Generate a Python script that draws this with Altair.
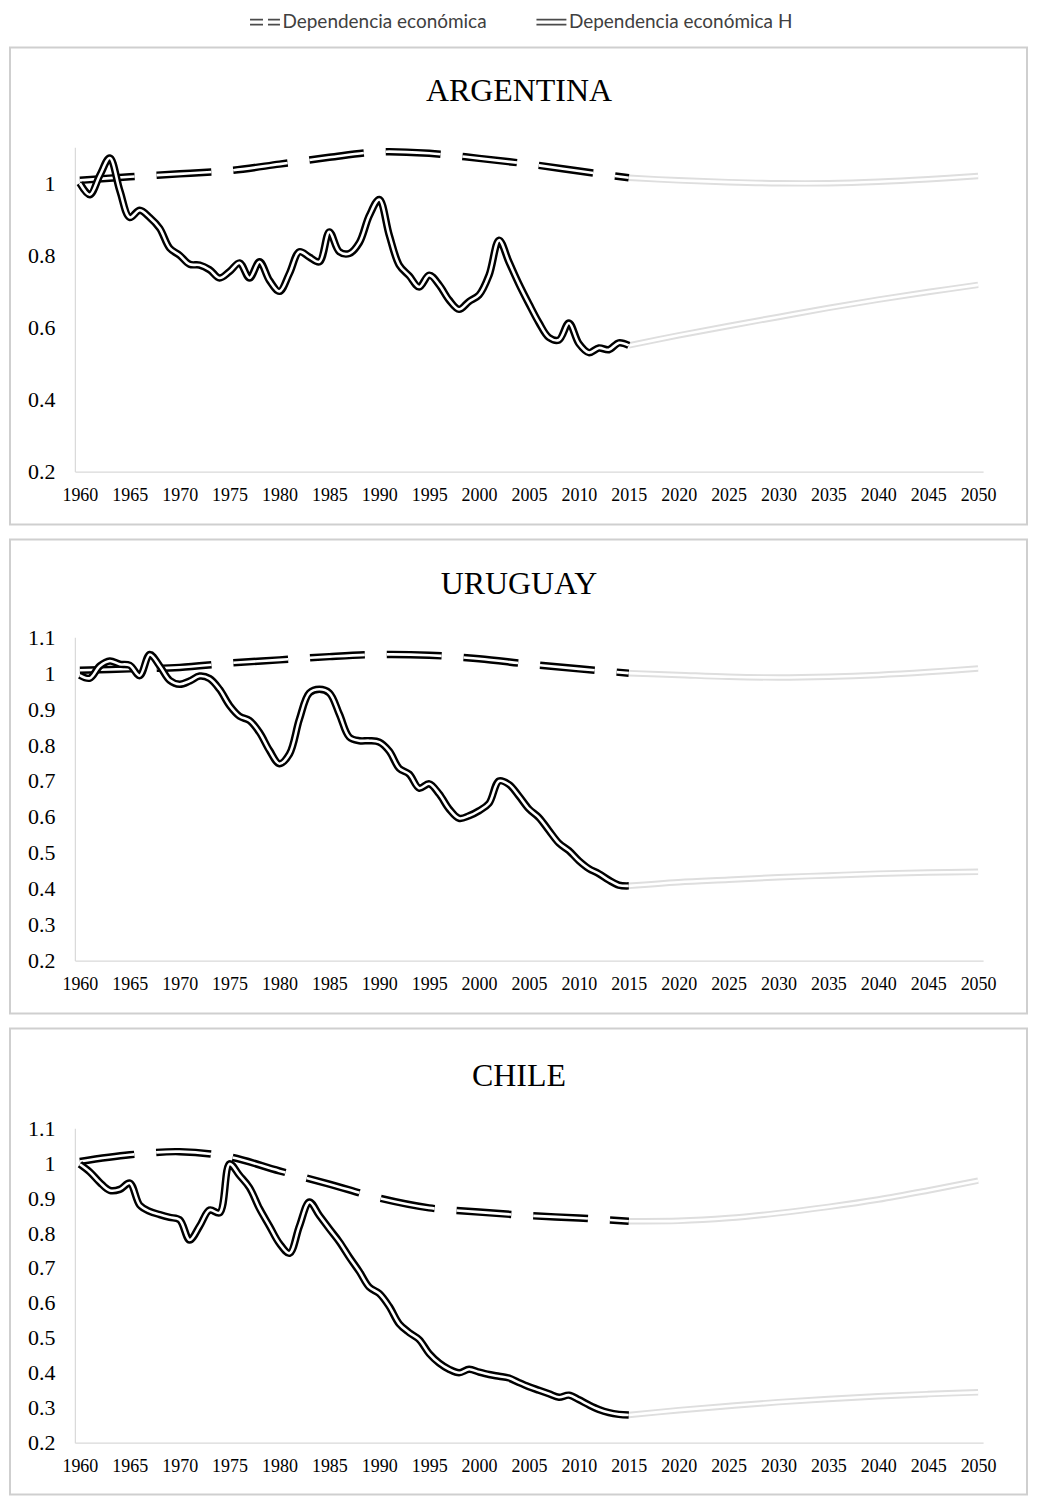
import altair as alt
import pandas as pd

paises = ["ARGENTINA", "URUGUAY", "CHILE"]
series = ["Dependencia económica", "Dependencia económica H"]

anios_hist = list(range(1960, 2016))
anios_dep = [1960, 1965, 1970, 1975, 1980, 1985, 1990, 1995, 2000, 2005, 2010, 2015]
anios_proy = [2015, 2020, 2025, 2030, 2035, 2040, 2045, 2050]
anios_eje = list(range(1960, 2051, 5))

# --- ARGENTINA ---
arg_h = [1.00, 0.968, 1.022, 1.07, 0.98, 0.905, 0.925, 0.905, 0.875, 0.82,
         0.80, 0.775, 0.773, 0.76, 0.737, 0.755, 0.779, 0.737, 0.782, 0.73,
         0.70, 0.75, 0.81, 0.795, 0.782, 0.865, 0.81, 0.805, 0.835, 0.91,
         0.955, 0.856, 0.773, 0.743, 0.712, 0.745, 0.718, 0.676, 0.65, 0.672,
         0.69, 0.745, 0.842, 0.781, 0.72, 0.665, 0.613, 0.572, 0.565, 0.612,
         0.555, 0.53, 0.543, 0.538, 0.557, 0.55]
arg_dep = [1.008, 1.018, 1.026, 1.035, 1.053, 1.072, 1.087, 1.083, 1.069, 1.053, 1.034, 1.015]
arg_dep_proy = [1.015, 1.008, 1.003, 1.0, 1.0, 1.004, 1.011, 1.02]
arg_h_proy = [0.55, 0.578, 0.604, 0.629, 0.654, 0.677, 0.698, 0.718]

# --- URUGUAY ---
uru_h = [0.994, 0.986, 1.02, 1.034, 1.025, 1.022, 0.993, 1.052, 1.02, 0.98,
         0.969, 0.978, 0.992, 0.985, 0.955, 0.91, 0.88, 0.868, 0.835, 0.785,
         0.748, 0.775, 0.872, 0.945, 0.955, 0.945, 0.886, 0.822, 0.812, 0.812,
         0.808, 0.783, 0.735, 0.719, 0.68, 0.692, 0.664, 0.622, 0.596, 0.603,
         0.617, 0.638, 0.70, 0.69, 0.658, 0.622, 0.598, 0.562, 0.527, 0.506,
         0.478, 0.456, 0.442, 0.424, 0.41, 0.408]
uru_dep = [1.008, 1.012, 1.016, 1.028, 1.037, 1.046, 1.052, 1.05, 1.04, 1.025, 1.012, 1.0]
uru_dep_proy = [1.0, 0.995, 0.99, 0.988, 0.99, 0.995, 1.003, 1.013]
uru_h_proy = [0.408, 0.418, 0.425, 0.432, 0.437, 0.442, 0.445, 0.447]

# --- CHILE ---
chi_h = [0.997, 0.975, 0.945, 0.922, 0.925, 0.943, 0.88, 0.862, 0.853, 0.845,
         0.838, 0.78, 0.82, 0.866, 0.858, 0.998, 0.965, 0.93, 0.87, 0.82,
         0.77, 0.742, 0.82, 0.889, 0.85, 0.812, 0.775, 0.731, 0.69, 0.645,
         0.627, 0.59, 0.54, 0.515, 0.495, 0.455, 0.428, 0.41, 0.40, 0.41,
         0.402, 0.395, 0.39, 0.385, 0.372, 0.36, 0.35, 0.34, 0.33, 0.336,
         0.323, 0.308, 0.295, 0.286, 0.281, 0.279]
chi_dep = [1.005, 1.024, 1.033, 1.018, 0.978, 0.94, 0.90, 0.872, 0.86, 0.85, 0.843, 0.834]
chi_dep_proy = [0.834, 0.835, 0.843, 0.857, 0.875, 0.896, 0.922, 0.95]
chi_h_proy = [0.279, 0.293, 0.305, 0.316, 0.325, 0.333, 0.339, 0.344]

datos = {
    "ARGENTINA": (arg_h, arg_dep, arg_h_proy, arg_dep_proy),
    "URUGUAY": (uru_h, uru_dep, uru_h_proy, uru_dep_proy),
    "CHILE": (chi_h, chi_dep, chi_h_proy, chi_dep_proy),
}

filas = []
for p, (h, dep, hp, dp) in datos.items():
    for a, v in zip(anios_hist, h):
        filas.append({"pais": p, "anio": a, "valor": v, "serie": series[1], "tramo": "hist"})
    for a, v in zip(anios_dep, dep):
        filas.append({"pais": p, "anio": a, "valor": v, "serie": series[0], "tramo": "hist"})
    for a, v in zip(anios_proy, hp):
        filas.append({"pais": p, "anio": a, "valor": v, "serie": series[1], "tramo": "proy"})
    for a, v in zip(anios_proy, dp):
        filas.append({"pais": p, "anio": a, "valor": v, "serie": series[0], "tramo": "proy"})
df = pd.DataFrame(filas)

SERIF = "Liberation Serif"
DASH = [55, 22]
INTERP = "catmull-rom"

ticks_y = {
    "ARGENTINA": [0.2, 0.4, 0.6, 0.8, 1.0],
    "URUGUAY": [0.2, 0.3, 0.4, 0.5, 0.6, 0.7, 0.8, 0.9, 1.0, 1.1],
    "CHILE": [0.2, 0.3, 0.4, 0.5, 0.6, 0.7, 0.8, 0.9, 1.0, 1.1],
}
alturas = {"ARGENTINA": 325, "URUGUAY": 324, "CHILE": 315}
caja = {"ARGENTINA": (-100, 378), "URUGUAY": (-98, 377), "CHILE": (-100, 367)}
titulo_y = {"ARGENTINA": -46, "URUGUAY": -43, "CHILE": -42}

path_dash = "M-3,-0.5H-0.4M0.6,-0.5H3M-3,0.5H-0.4M0.6,0.5H3"
path_solid = "M-3,-0.5H3M-3,0.5H3"


def panel(pais, con_leyenda=False):
    d = df[df.pais == pais]
    h = alturas[pais]
    base = alt.Chart(d).encode(
        x=alt.X("anio:Q",
                scale=alt.Scale(domain=[1959.5, 2050.5], nice=False, zero=False),
                axis=alt.Axis(values=anios_eje, format="d", title=None, grid=False,
                              ticks=False, tickSize=0, labelPadding=15,
                              labelFont=SERIF, labelFontSize=18, labelColor="black",
                              domainColor="#d9d9d9", domainWidth=1.2, labelFlush=False)),
        y=alt.Y("valor:Q",
                scale=alt.Scale(domain=[0.2, 1.1], nice=False, zero=False),
                axis=alt.Axis(values=ticks_y[pais], format="~g", title=None, grid=False,
                              ticks=False, tickSize=0, labelPadding=20,
                              labelFont=SERIF, labelFontSize=22, labelColor="black",
                              domainColor="#d9d9d9", domainWidth=1.2)),
        detail="serie:N",
    )
    proy = base.transform_filter(alt.datum.tramo == "proy")
    dep = base.transform_filter((alt.datum.tramo == "hist") & (alt.datum.serie == series[0]))
    hh = base.transform_filter((alt.datum.tramo == "hist") & (alt.datum.serie == series[1]))

    capas = [
        proy.mark_line(color="#dedede", strokeWidth=6.5, interpolate=INTERP),
        proy.mark_line(color="white", strokeWidth=2.6, interpolate=INTERP),
        dep.mark_line(color="black", strokeWidth=7.5, strokeDash=DASH, interpolate=INTERP),
        dep.mark_line(color="white", strokeWidth=2.6, strokeDash=DASH, interpolate=INTERP),
        hh.mark_line(color="black", strokeWidth=7.5, interpolate=INTERP, strokeJoin="round"),
        hh.mark_line(color="white", strokeWidth=2.6, interpolate=INTERP, strokeJoin="round"),
    ]

    y0, y1 = caja[pais]
    marco = alt.Chart(pd.DataFrame({"k": [0]})).mark_rect(
        fillOpacity=0, stroke="#cfcfcf", strokeWidth=2
    ).encode(x=alt.value(-65), x2=alt.value(954), y=alt.value(y0), y2=alt.value(y1))
    titulo = alt.Chart(pd.DataFrame({"t": [pais]})).mark_text(
        font=SERIF, fontSize=32, baseline="alphabetic", align="center", color="black"
    ).encode(text="t:N", x=alt.value(445), y=alt.value(titulo_y[pais]))
    capas += [marco, titulo]

    if con_leyenda:
        ley = alt.Chart(pd.DataFrame({"serie": series})).transform_filter("false").mark_point(
            filled=False, color="black", strokeWidth=1.8
        ).encode(
            shape=alt.Shape("serie:N",
                            scale=alt.Scale(domain=series, range=[path_dash, path_solid]),
                            legend=alt.Legend(orient="none", legendX=181, legendY=-135,
                                              direction="horizontal", title=None,
                                              labelFont="Lato", labelFontSize=19,
                                              labelColor="#404040", labelLimit=0,
                                              symbolSize=100,
                                              symbolStrokeWidth=1.8, symbolStrokeColor="black",
                                              symbolFillColor="transparent", labelOffset=8,
                                              columnPadding=45, padding=0))
        )
        capas.append(ley)

    return alt.layer(*capas).properties(
        width=910, height=h,
        view=alt.ViewBackground(stroke="transparent", strokeWidth=0)
    )


chart = alt.vconcat(
    panel("ARGENTINA", True), panel("URUGUAY"), panel("CHILE"), spacing=13
).properties(
    padding={"left": 1, "top": 3, "right": 1, "bottom": 0}
).configure_view(stroke="transparent", strokeWidth=0).configure(background="white")

chart.save("out.html", embed_options={"renderer": "svg", "actions": False})
